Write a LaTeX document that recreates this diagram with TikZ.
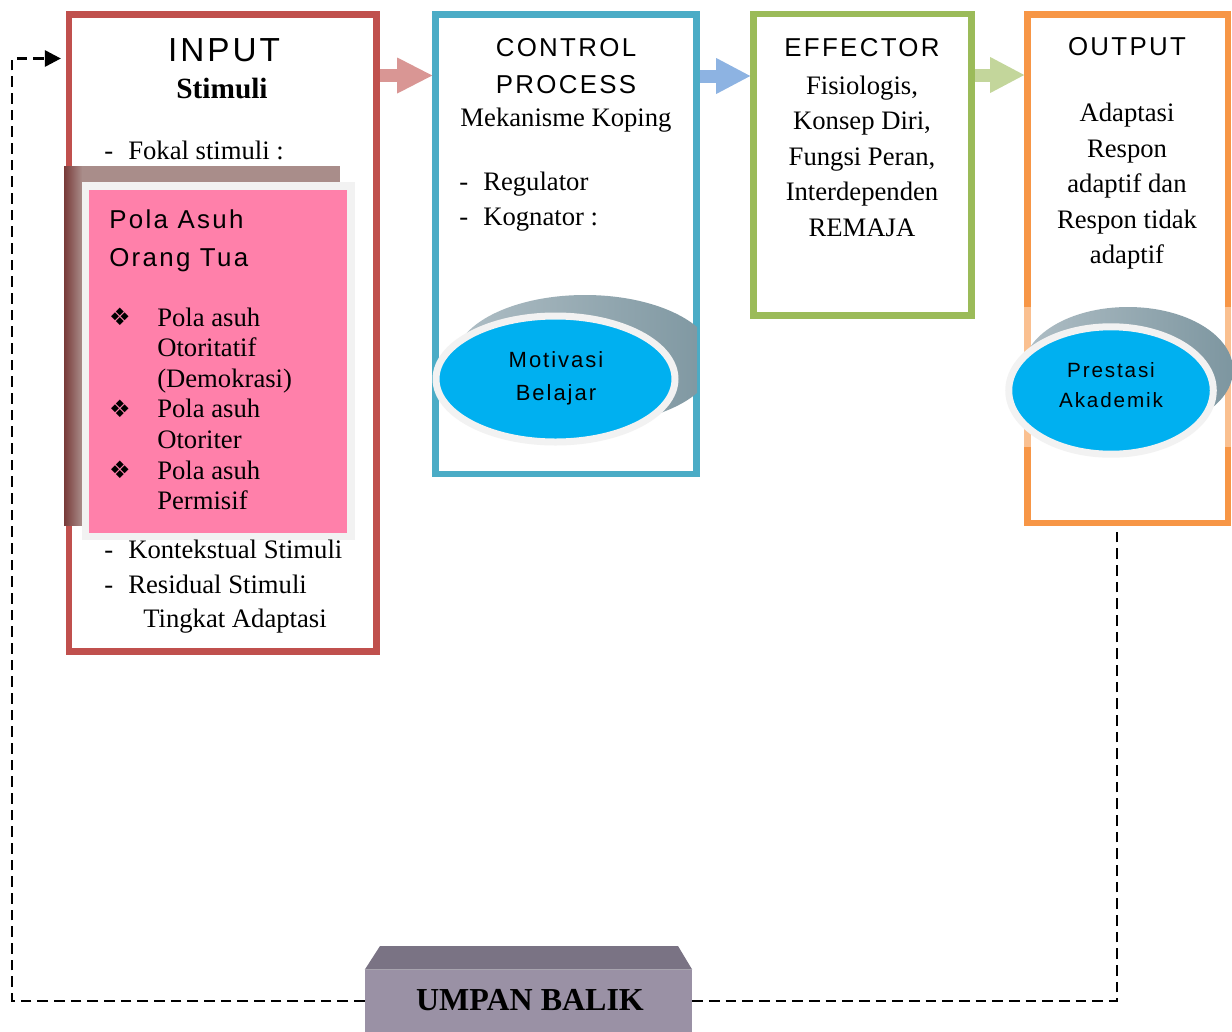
\documentclass[tikz,border=0pt]{standalone}
\usepackage{fontspec}
\setmainfont{Liberation Serif}
\newfontfamily\hsans[LetterSpace=9]{Liberation Sans}
\newfontfamily\symfont{DejaVu Sans}
\usetikzlibrary{arrows.meta,shapes.geometric,calc}
\definecolor{cred}{RGB}{192,80,77}
\definecolor{cblue}{RGB}{75,172,198}
\definecolor{cgreen}{RGB}{155,187,89}
\definecolor{corange}{RGB}{247,150,70}
\definecolor{ared}{RGB}{217,150,148}
\definecolor{ablue}{RGB}{141,179,226}
\definecolor{agreen}{RGB}{195,214,155}
\definecolor{pinkc}{RGB}{255,128,170}
\definecolor{brownc}{RGB}{169,141,138}
\definecolor{brownd}{RGB}{120,58,56}
\definecolor{framec}{RGB}{242,242,242}
\definecolor{ovalc}{RGB}{0,176,240}
\definecolor{shadc}{RGB}{125,150,160}
\definecolor{shadl}{RGB}{175,190,197}
\definecolor{umpf}{RGB}{154,145,165}
\definecolor{umpt}{RGB}{122,115,132}
\begin{document}
\begin{tikzpicture}[x=0.75pt,y=-0.75pt,
  box/.style={draw=#1, line width=4.9pt, inner sep=0pt, fill=white},
  tx/.style={font=\fontsize{20}{24}\selectfont, inner sep=0pt, text height=13.2pt, text depth=0pt},
  txl/.style={tx, anchor=west},
  hd/.style={font=\hsans\fontsize{19.4}{23}\selectfont, inner sep=0pt, text height=13.9pt, text depth=0pt},
  shaft/.style={draw=#1, line width=9.75pt},
  fb/.style={line width=2pt, dash pattern=on 8pt off 4.5pt},
  oval/.style={ellipse, draw=framec, line width=5.25pt, fill=ovalc, inner sep=0pt},
  ovtx/.style={font=\hsans\fontsize{16.5}{20}\selectfont, inner sep=0pt, text height=11.8pt, text depth=0pt},
  bul/.style={font=\symfont\fontsize{18}{18}\selectfont, inner sep=0pt}
]
\useasboundingbox (0,0) rectangle (1232,1032);

% main boxes
\node[box=cred, minimum width=230.6pt, minimum height=477.75pt] (input) at (222.75,333) {};
\node[box=cblue, minimum width=195.75pt, minimum height=344.6pt] (control) at (566,244.25) {};
\node[box=cgreen, minimum width=163.5pt, minimum height=226.1pt] (effector) at (862.5,164.75) {};
\node[box=corange, minimum width=150.4pt, minimum height=381.4pt] (output) at (1127.75,268.75) {};

% block arrows
\coordinate (t1) at (control.west |- 0,75.5);
\draw[shaft=ared] (input.east |- 0,75.5) -- ($(t1)+(-35,0)$);
\fill[ared] ($(t1)+(-35,-18)$) -- (t1) -- ($(t1)+(-35,18)$) -- cycle;
\coordinate (t2) at (effector.west |- 0,76);
\draw[shaft=ablue] (control.east |- 0,76) -- ($(t2)+(-34,0)$);
\fill[ablue] ($(t2)+(-34,-18)$) -- (t2) -- ($(t2)+(-34,18)$) -- cycle;
\coordinate (t3) at (output.west |- 0,75);
\draw[shaft=agreen] (effector.east |- 0,75) -- ($(t3)+(-34,0)$);
\fill[agreen] ($(t3)+(-34,-18)$) -- (t3) -- ($(t3)+(-34,18)$) -- cycle;

% INPUT contents
\node[font=\hsans\fontsize{25}{30}\selectfont, inner sep=0pt, text height=17.9pt, text depth=0pt] (inputt) at (224,50) {INPUT};
\node[tx, font=\bfseries\fontsize{22}{26}\selectfont, text height=14.9pt] (stim) at (222,89) {Stimuli};
\node[txl] (d1) at (104,151) {-};
\node[txl] (fokal) at (128,151) {Fokal stimuli :};

\fill[brownc] (64,166) rectangle (340,525);
\shade[left color=brownd, right color=brownc] (64,166) rectangle (82,525);
\fill[framec] (82,182) rectangle (355,540);
\node[fill=pinkc, minimum width=193.5pt, minimum height=257.25pt, inner sep=0pt] (pola) at (218,361.5) {};
\node[hd, anchor=west] (pah1) at (109,219) {Pola Asuh};
\node[hd, anchor=west] (pah2) at (109,257) {Orang Tua};
\node[bul] (b1) at (120,317) {❖};
\node[bul] (b2) at (120,409) {❖};
\node[bul] (b3) at (120,470) {❖};
\node[txl] (i1) at (157,317.5) {Pola asuh};
\node[txl] (i2) at (157,348) {Otoritatif};
\node[txl] (i3) at (157,379) {(Demokrasi)};
\node[txl] (i4) at (157,409) {Pola asuh};
\node[txl] (i5) at (157,440) {Otoriter};
\node[txl] (i6) at (157,471) {Pola asuh};
\node[txl] (i7) at (157,501) {Permisif};

\node[txl] (d2) at (104,550) {-};
\node[txl] (kont) at (128,550) {Kontekstual Stimuli};
\node[txl] (d3) at (104,585) {-};
\node[txl] (resid) at (128,585) {Residual Stimuli};
\node[txl] (ting) at (143,619) {Tingkat Adaptasi};

% CONTROL contents
\node[hd] (ctl1) at (566,47.5) {CONTROL};
\node[hd] (ctl2) at (566,84) {PROCESS};
\node[tx] (meka) at (566,118) {Mekanisme Koping};
\node[txl] (d4) at (459,181.5) {-};
\node[txl] (regu) at (483,181.5) {Regulator};
\node[txl] (d5) at (459,216.5) {-};
\node[txl] (kogn) at (483,216.5) {Kognator :};

\begin{scope}
  \clip (445,295) rectangle (697,430);
  \shade[left color=shadl, right color=shadc] (585,360) ellipse [x radius=97.5pt, y radius=48.75pt];
\end{scope}
\node[oval, minimum width=179.25pt, minimum height=94.5pt] (motiv) at (555.5,379) {};
\node[ovtx] (mot1) at (556,359.5) {Motivasi};
\node[ovtx] (mot2) at (556,393) {Belajar};

% EFFECTOR contents
\node[hd] (eff) at (862,47) {EFFECTOR};
\node[tx] (e1) at (862,86) {Fisiologis,};
\node[tx] (e2) at (862,121) {Konsep Diri,};
\node[tx] (e3) at (862,157) {Fungsi Peran,};
\node[tx] (e4) at (862,192) {Interdependen};
\node[tx] (e5) at (862,228) {REMAJA};

% OUTPUT contents
\node[hd] (outt) at (1127,46.5) {OUTPUT};
\node[tx] (o1) at (1127,112.5) {Adaptasi};
\node[tx] (o2) at (1127,149) {Respon};
\node[tx] (o3) at (1127,183.5) {adaptif dan};
\node[tx] (o4) at (1127,220) {Respon tidak};
\node[tx] (o5) at (1127,254.5) {adaptif};

\fill[white, opacity=0.4] (1021,307) rectangle (1232,447);
\begin{scope}
  \clip (1021,307) rectangle (1232,460);
  \shade[left color=shadl, right color=shadc] (1128,370) ellipse [x radius=78.75pt, y radius=47.25pt];
\end{scope}
\node[oval, minimum width=153.4pt, minimum height=95.6pt] (prest) at (1111,390.5) {};
\node[ovtx, font=\hsans\fontsize{15.5}{19}\selectfont, text height=11.1pt] (pr1) at (1111,370) {Prestasi};
\node[ovtx, font=\hsans\fontsize{15.5}{19}\selectfont, text height=11.1pt] (pr2) at (1111,400) {Akademik};

% UMPAN BALIK
\node[fill=umpf, minimum width=245.25pt, minimum height=46.5pt, inner sep=0pt] (umpan) at (528.5,1001) {};
\fill[umpt] (umpan.north west) -- (380,946) -- (678,946) -- (umpan.north east) -- cycle;
\node[tx, font=\bfseries\fontsize{24}{28}\selectfont, text height=16.2pt] (umpant) at (530,1000) {UMPAN BALIK};

% feedback loop
\coordinate (fbtip) at ($(input.west |- 0,58.5)+(-5,0)$);
\draw[fb] (umpan.west) -- (12,1001) |- ($(fbtip)+(-16,0)$);
\fill ($(fbtip)+(-16,-8.5)$) -- (fbtip) -- ($(fbtip)+(-16,8.5)$) -- cycle;
\draw[fb] (umpan.east) -| (1117,0 |- output.south);
\end{tikzpicture}
\end{document}
